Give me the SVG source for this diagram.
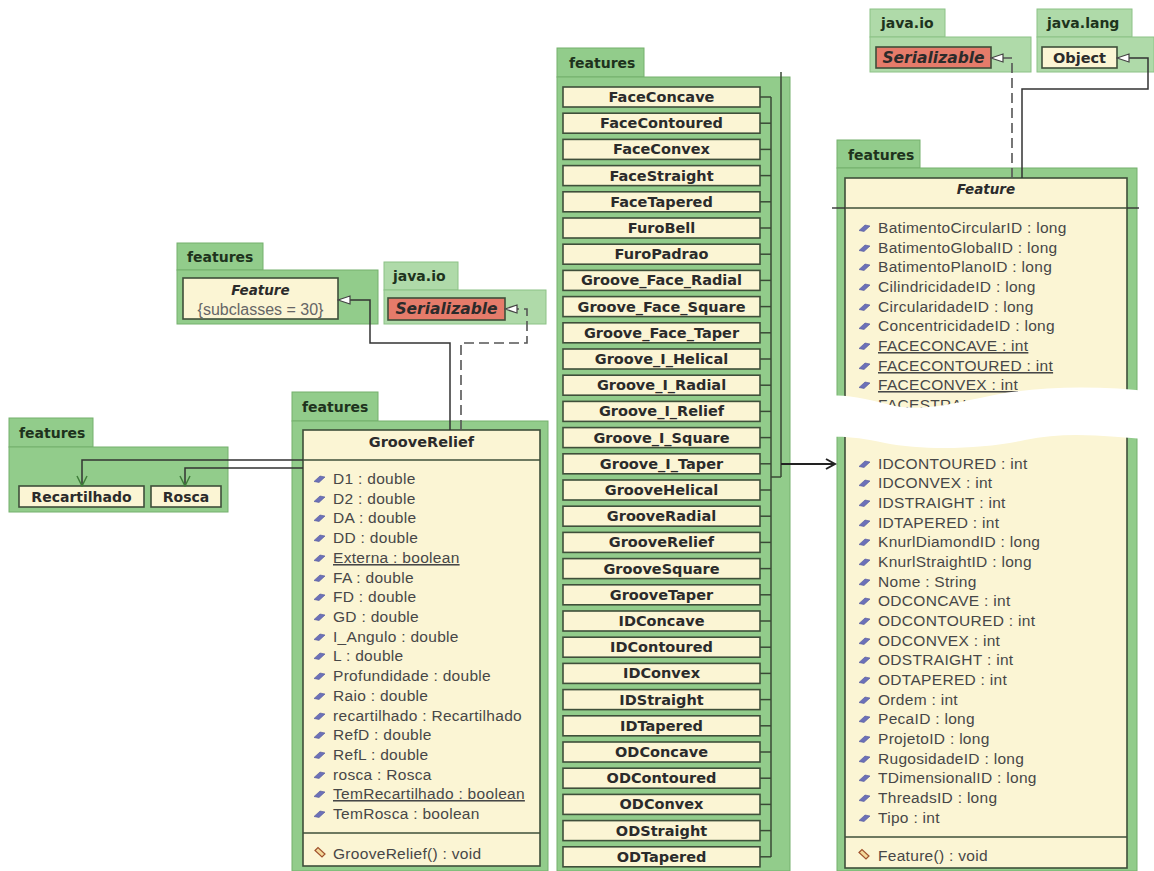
<svg xmlns="http://www.w3.org/2000/svg" width="1154" height="871" viewBox="0 0 1154 871">
<style>
.pkg{fill:#92cc8b;stroke:#74b06d;stroke-width:1}
.pkgj{fill:#afdaa9;stroke:#8cc286;stroke-width:1}
.tab{font-family:"DejaVu Sans",sans-serif;font-weight:bold;font-size:14px;fill:#1e331d}
.cls{fill:#fbf5d4;stroke:#3f4f3a;stroke-width:1.6}
.name{font-family:"DejaVu Sans",sans-serif;font-weight:bold;font-size:14.5px;fill:#2b2b2b;text-anchor:middle}
.iname{font-family:"DejaVu Sans",sans-serif;font-weight:bold;font-style:italic;font-size:13.5px;fill:#2b2b2b;text-anchor:middle}
.attr{font-family:"Liberation Sans",Arial,sans-serif;font-size:15.5px;letter-spacing:0.3px;fill:#474747}
.u{text-decoration:underline}
.sub{font-family:"Liberation Sans",Arial,sans-serif;font-size:16px;fill:#666;text-anchor:middle}
.sep{stroke:#3f4f3a;stroke-width:1.4}
.ln{fill:none;stroke:#333;stroke-width:1.5}
.dash{fill:none;stroke:#555;stroke-width:1.6;stroke-dasharray:10,5}
.bus{fill:none;stroke:#3a4a36;stroke-width:1.5}
</style>
<defs>
<marker id="gen" markerUnits="userSpaceOnUse" markerWidth="14" markerHeight="10" refX="13" refY="5" orient="auto">
<path d="M1,1 L13,5 L1,9 Z" fill="#fff" stroke="#444" stroke-width="1.2"/>
</marker>
<marker id="assoc" markerUnits="userSpaceOnUse" markerWidth="12" markerHeight="12" refX="11" refY="6" orient="auto">
<path d="M1,1 L11,6 L1,11" fill="none" stroke="#3f7d3a" stroke-width="1.5"/>
</marker>
<marker id="dep" markerUnits="userSpaceOnUse" markerWidth="12" markerHeight="12" refX="10" refY="6" orient="auto">
<path d="M1,1 L10,6 L1,11" fill="none" stroke="#222" stroke-width="2"/>
</marker>
<g id="ai"><path d="M-5,2.5 L1,-3 L6,-2 L0,3.5 Z" fill="#6c71b8" stroke="#50559a" stroke-width="0.6"/></g>
<g id="mi"><path d="M-5,-1.5 L-2,-4.5 L5,2 L2,5 Z" fill="#f3d89a" stroke="#a0522d" stroke-width="1.2"/></g>
</defs>

<!-- Feature {subclasses} package -->
<g id="pkg-feature-ref">
<rect class="pkg" x="177" y="243" width="86" height="27"/>
<rect class="pkg" x="177" y="270" width="201" height="54"/>
<text class="tab" x="187" y="262">features</text>
<rect class="cls" x="183" y="278" width="155" height="41"/>
<text class="iname" x="260.5" y="295">Feature</text>
<text class="sub" x="260.5" y="315">{subclasses = 30}</text>
</g>

<!-- java.io left -->
<g id="pkg-javaio-left">
<rect class="pkgj" x="384" y="262" width="74" height="28"/>
<rect class="pkgj" x="384" y="290" width="162" height="34"/>
<text class="tab" x="393" y="281">java.io</text>
<rect x="388" y="298" width="117" height="22" fill="#e57b6a" stroke="#3f4f3a" stroke-width="1.6"/>
<text class="iname" x="446.5" y="314" style="font-size:15.5px">Serializable</text>
</g>

<!-- Recartilhado / Rosca package -->
<g id="pkg-recart">
<rect class="pkg" x="9" y="418" width="84" height="29"/>
<rect class="pkg" x="9" y="447" width="219" height="65"/>
<text class="tab" x="19" y="438">features</text>
<g id="Recartilhado"><rect class="cls" x="19" y="486" width="125" height="21"/><text class="name" x="81.5" y="502" style="font-size:14px">Recartilhado</text></g>
<g id="Rosca"><rect class="cls" x="151" y="486" width="70" height="21"/><text class="name" x="186" y="502" style="font-size:14px">Rosca</text></g>
</g>

<!-- GrooveRelief -->
<g id="GrooveRelief">
<rect class="pkg" x="292" y="392" width="86" height="29"/>
<rect class="pkg" x="292" y="421" width="256" height="450"/>
<text class="tab" x="302" y="412">features</text>
<rect class="cls" x="303" y="430" width="237" height="436"/>
<text class="name" x="421.5" y="447">GrooveRelief</text>
<line class="sep" x1="303" y1="460" x2="540" y2="460"/>
<g class="attr">
<use href="#ai" x="319" y="479"/><text x="333" y="484">D1 : double</text>
<use href="#ai" x="319" y="499"/><text x="333" y="504">D2 : double</text>
<use href="#ai" x="319" y="518"/><text x="333" y="523">DA : double</text>
<use href="#ai" x="319" y="538"/><text x="333" y="543">DD : double</text>
<use href="#ai" x="319" y="558"/><text class="u" x="333" y="563">Externa : boolean</text>
<use href="#ai" x="319" y="578"/><text x="333" y="583">FA : double</text>
<use href="#ai" x="319" y="597"/><text x="333" y="602">FD : double</text>
<use href="#ai" x="319" y="617"/><text x="333" y="622">GD : double</text>
<use href="#ai" x="319" y="637"/><text x="333" y="642">I_Angulo : double</text>
<use href="#ai" x="319" y="656"/><text x="333" y="661">L : double</text>
<use href="#ai" x="319" y="676"/><text x="333" y="681">Profundidade : double</text>
<use href="#ai" x="319" y="696"/><text x="333" y="701">Raio : double</text>
<use href="#ai" x="319" y="716"/><text x="333" y="721">recartilhado : Recartilhado</text>
<use href="#ai" x="319" y="735"/><text x="333" y="740">RefD : double</text>
<use href="#ai" x="319" y="755"/><text x="333" y="760">RefL : double</text>
<use href="#ai" x="319" y="775"/><text x="333" y="780">rosca : Rosca</text>
<use href="#ai" x="319" y="794"/><text class="u" x="333" y="799">TemRecartilhado : boolean</text>
<use href="#ai" x="319" y="814"/><text x="333" y="819">TemRosca : boolean</text>
</g>
<line class="sep" x1="303" y1="833" x2="540" y2="833"/>
<use href="#mi" x="320" y="852"/><text class="attr" x="333" y="859">GrooveRelief() : void</text>
</g>

<!-- Middle package with 30 subclasses -->
<g id="pkg-subclasses">
<rect class="pkg" x="557" y="48" width="87" height="29"/>
<rect class="pkg" x="557" y="77" width="233" height="794"/>
<text class="tab" x="569" y="68">features</text>
<g id="FaceConcave"><rect class="cls" x="563" y="87" width="197" height="20"/><text class="name" x="661.5" y="102">FaceConcave</text></g>
<g id="FaceContoured"><rect class="cls" x="563" y="113.2" width="197" height="20"/><text class="name" x="661.5" y="128.2">FaceContoured</text></g>
<g id="FaceConvex"><rect class="cls" x="563" y="139.4" width="197" height="20"/><text class="name" x="661.5" y="154.4">FaceConvex</text></g>
<g id="FaceStraight"><rect class="cls" x="563" y="165.6" width="197" height="20"/><text class="name" x="661.5" y="180.6">FaceStraight</text></g>
<g id="FaceTapered"><rect class="cls" x="563" y="191.8" width="197" height="20"/><text class="name" x="661.5" y="206.8">FaceTapered</text></g>
<g id="FuroBell"><rect class="cls" x="563" y="218" width="197" height="20"/><text class="name" x="661.5" y="233">FuroBell</text></g>
<g id="FuroPadrao"><rect class="cls" x="563" y="244.2" width="197" height="20"/><text class="name" x="661.5" y="259.2">FuroPadrao</text></g>
<g id="Groove_Face_Radial"><rect class="cls" x="563" y="270.4" width="197" height="20"/><text class="name" x="661.5" y="285.4">Groove_Face_Radial</text></g>
<g id="Groove_Face_Square"><rect class="cls" x="563" y="296.6" width="197" height="20"/><text class="name" x="661.5" y="311.6">Groove_Face_Square</text></g>
<g id="Groove_Face_Taper"><rect class="cls" x="563" y="322.8" width="197" height="20"/><text class="name" x="661.5" y="337.8">Groove_Face_Taper</text></g>
<g id="Groove_I_Helical"><rect class="cls" x="563" y="349" width="197" height="20"/><text class="name" x="661.5" y="364">Groove_I_Helical</text></g>
<g id="Groove_I_Radial"><rect class="cls" x="563" y="375.2" width="197" height="20"/><text class="name" x="661.5" y="390.2">Groove_I_Radial</text></g>
<g id="Groove_I_Relief"><rect class="cls" x="563" y="401.4" width="197" height="20"/><text class="name" x="661.5" y="416.4">Groove_I_Relief</text></g>
<g id="Groove_I_Square"><rect class="cls" x="563" y="427.6" width="197" height="20"/><text class="name" x="661.5" y="442.6">Groove_I_Square</text></g>
<g id="Groove_I_Taper"><rect class="cls" x="563" y="453.8" width="197" height="20"/><text class="name" x="661.5" y="468.8">Groove_I_Taper</text></g>
<g id="GrooveHelical"><rect class="cls" x="563" y="480" width="197" height="20"/><text class="name" x="661.5" y="495">GrooveHelical</text></g>
<g id="GrooveRadial"><rect class="cls" x="563" y="506.2" width="197" height="20"/><text class="name" x="661.5" y="521.2">GrooveRadial</text></g>
<g id="GrooveRelief-sub"><rect class="cls" x="563" y="532.4" width="197" height="20"/><text class="name" x="661.5" y="547.4">GrooveRelief</text></g>
<g id="GrooveSquare"><rect class="cls" x="563" y="558.6" width="197" height="20"/><text class="name" x="661.5" y="573.6">GrooveSquare</text></g>
<g id="GrooveTaper"><rect class="cls" x="563" y="584.8" width="197" height="20"/><text class="name" x="661.5" y="599.8">GrooveTaper</text></g>
<g id="IDConcave"><rect class="cls" x="563" y="611" width="197" height="20"/><text class="name" x="661.5" y="626">IDConcave</text></g>
<g id="IDContoured"><rect class="cls" x="563" y="637.2" width="197" height="20"/><text class="name" x="661.5" y="652.2">IDContoured</text></g>
<g id="IDConvex"><rect class="cls" x="563" y="663.4" width="197" height="20"/><text class="name" x="661.5" y="678.4">IDConvex</text></g>
<g id="IDStraight"><rect class="cls" x="563" y="689.6" width="197" height="20"/><text class="name" x="661.5" y="704.6">IDStraight</text></g>
<g id="IDTapered"><rect class="cls" x="563" y="715.8" width="197" height="20"/><text class="name" x="661.5" y="730.8">IDTapered</text></g>
<g id="ODConcave"><rect class="cls" x="563" y="742" width="197" height="20"/><text class="name" x="661.5" y="757">ODConcave</text></g>
<g id="ODContoured"><rect class="cls" x="563" y="768.2" width="197" height="20"/><text class="name" x="661.5" y="783.2">ODContoured</text></g>
<g id="ODConvex"><rect class="cls" x="563" y="794.4" width="197" height="20"/><text class="name" x="661.5" y="809.4">ODConvex</text></g>
<g id="ODStraight"><rect class="cls" x="563" y="820.6" width="197" height="20"/><text class="name" x="661.5" y="835.6">ODStraight</text></g>
<g id="ODTapered"><rect class="cls" x="563" y="846.8" width="197" height="20"/><text class="name" x="661.5" y="861.8">ODTapered</text></g>
</g>

<!-- top right java packages -->
<g id="pkg-javaio-right">
<rect class="pkgj" x="870" y="9" width="75" height="28"/>
<rect class="pkgj" x="870" y="37" width="161" height="35"/>
<text class="tab" x="881" y="28">java.io</text>
<rect x="876" y="47" width="115" height="21" fill="#e57b6a" stroke="#3f4f3a" stroke-width="1.6"/>
<text class="iname" x="933.5" y="63" style="font-size:15.5px">Serializable</text>
</g>
<g id="pkg-javalang">
<rect class="pkgj" x="1037" y="9" width="95" height="28"/>
<rect class="pkgj" x="1037" y="37" width="117" height="35"/>
<text class="tab" x="1047" y="28">java.lang</text>
<rect class="cls" x="1042" y="47" width="75" height="21"/>
<text class="name" x="1079.5" y="63">Object</text>
</g>

<!-- Feature class -->
<g id="Feature">
<rect class="pkg" x="837" y="140" width="83" height="28"/>
<rect class="pkg" x="837" y="168" width="300" height="703"/>
<text class="tab" x="848" y="160">features</text>
<rect class="cls" x="845" y="178" width="282" height="690"/>
<text class="iname" x="986" y="194">Feature</text>
<line class="sep" x1="845" y1="208" x2="1127" y2="208"/>
<g class="attr">
<use href="#ai" x="864" y="228"/><text x="878" y="233">BatimentoCircularID : long</text>
<use href="#ai" x="864" y="248"/><text x="878" y="253">BatimentoGlobalID : long</text>
<use href="#ai" x="864" y="267"/><text x="878" y="272">BatimentoPlanoID : long</text>
<use href="#ai" x="864" y="287"/><text x="878" y="292">CilindricidadeID : long</text>
<use href="#ai" x="864" y="307"/><text x="878" y="312">CircularidadeID : long</text>
<use href="#ai" x="864" y="326"/><text x="878" y="331">ConcentricidadeID : long</text>
<use href="#ai" x="864" y="346"/><text class="u" x="878" y="351">FACECONCAVE : int</text>
<use href="#ai" x="864" y="366"/><text class="u" x="878" y="371">FACECONTOURED : int</text>
<use href="#ai" x="864" y="385"/><text class="u" x="878" y="390">FACECONVEX : int</text>
<use href="#ai" x="864" y="405"/><text class="u" x="878" y="410">FACESTRAIGHT : int</text>
<use href="#ai" x="864" y="464"/><text x="878" y="469">IDCONTOURED : int</text>
<use href="#ai" x="864" y="483"/><text x="878" y="488">IDCONVEX : int</text>
<use href="#ai" x="864" y="503"/><text x="878" y="508">IDSTRAIGHT : int</text>
<use href="#ai" x="864" y="523"/><text x="878" y="528">IDTAPERED : int</text>
<use href="#ai" x="864" y="542"/><text x="878" y="547">KnurlDiamondID : long</text>
<use href="#ai" x="864" y="562"/><text x="878" y="567">KnurlStraightID : long</text>
<use href="#ai" x="864" y="582"/><text x="878" y="587">Nome : String</text>
<use href="#ai" x="864" y="601"/><text x="878" y="606">ODCONCAVE : int</text>
<use href="#ai" x="864" y="621"/><text x="878" y="626">ODCONTOURED : int</text>
<use href="#ai" x="864" y="641"/><text x="878" y="646">ODCONVEX : int</text>
<use href="#ai" x="864" y="660"/><text x="878" y="665">ODSTRAIGHT : int</text>
<use href="#ai" x="864" y="680"/><text x="878" y="685">ODTAPERED : int</text>
<use href="#ai" x="864" y="700"/><text x="878" y="705">Ordem : int</text>
<use href="#ai" x="864" y="719"/><text x="878" y="724">PecaID : long</text>
<use href="#ai" x="864" y="739"/><text x="878" y="744">ProjetoID : long</text>
<use href="#ai" x="864" y="759"/><text x="878" y="764">RugosidadeID : long</text>
<use href="#ai" x="864" y="778"/><text x="878" y="783">TDimensionalID : long</text>
<use href="#ai" x="864" y="798"/><text x="878" y="803">ThreadsID : long</text>
<use href="#ai" x="864" y="818"/><text x="878" y="823">Tipo : int</text>
</g>
<line class="sep" x1="845" y1="837" x2="1127" y2="837"/>
<use href="#mi" x="864" y="854"/><text class="attr" x="878" y="861">Feature() : void</text>
<!-- torn-paper cut -->
<path d="M828,396 C850,394 868,400 895,406 C930,412 965,400 1005,393 C1050,386 1105,386 1154,392 L1154,440 C1110,436 1065,431 1025,440 C985,449 925,451 885,443 C862,438 846,436 828,437 Z" fill="#fff"/>
</g>

<!-- connectors -->
<g id="connectors">
<polyline class="ln" points="303,460 82,460 82,486" marker-end="url(#assoc)"/>
<polyline class="ln" points="303,468 185,468 185,486" marker-end="url(#assoc)"/>
<polyline class="ln" points="450,430 450,343 370,343 370,300 338,300" marker-end="url(#gen)"/>
<polyline class="dash" points="461,430 461,343 527,343 527,309 505,309" marker-end="url(#gen)"/>
<g class="bus">
<line x1="771" y1="97" x2="771" y2="857"/>
<line x1="781" y1="72" x2="781" y2="477"/>
<line x1="771" y1="477" x2="781" y2="477"/>
<line x1="760" y1="97" x2="771" y2="97"/>
<line x1="760" y1="123.2" x2="771" y2="123.2"/>
<line x1="760" y1="149.4" x2="771" y2="149.4"/>
<line x1="760" y1="175.6" x2="771" y2="175.6"/>
<line x1="760" y1="201.8" x2="771" y2="201.8"/>
<line x1="760" y1="228" x2="771" y2="228"/>
<line x1="760" y1="254.2" x2="771" y2="254.2"/>
<line x1="760" y1="280.4" x2="771" y2="280.4"/>
<line x1="760" y1="306.6" x2="771" y2="306.6"/>
<line x1="760" y1="332.8" x2="771" y2="332.8"/>
<line x1="760" y1="359" x2="771" y2="359"/>
<line x1="760" y1="385.2" x2="771" y2="385.2"/>
<line x1="760" y1="411.4" x2="771" y2="411.4"/>
<line x1="760" y1="437.6" x2="771" y2="437.6"/>
<line x1="760" y1="463.8" x2="771" y2="463.8"/>
<line x1="760" y1="490" x2="771" y2="490"/>
<line x1="760" y1="516.2" x2="771" y2="516.2"/>
<line x1="760" y1="542.4" x2="771" y2="542.4"/>
<line x1="760" y1="568.6" x2="771" y2="568.6"/>
<line x1="760" y1="594.8" x2="771" y2="594.8"/>
<line x1="760" y1="621" x2="771" y2="621"/>
<line x1="760" y1="647.2" x2="771" y2="647.2"/>
<line x1="760" y1="673.4" x2="771" y2="673.4"/>
<line x1="760" y1="699.6" x2="771" y2="699.6"/>
<line x1="760" y1="725.8" x2="771" y2="725.8"/>
<line x1="760" y1="752" x2="771" y2="752"/>
<line x1="760" y1="778.2" x2="771" y2="778.2"/>
<line x1="760" y1="804.4" x2="771" y2="804.4"/>
<line x1="760" y1="830.6" x2="771" y2="830.6"/>
<line x1="760" y1="856.8" x2="771" y2="856.8"/>
</g>
<line x1="781" y1="464" x2="835" y2="464" stroke="#222" stroke-width="1.8" marker-end="url(#dep)"/>
<polyline class="dash" points="1012,178 1012,58 991,58" marker-end="url(#gen)"/>
<polyline class="ln" points="1022,178 1022,89 1148,89 1148,58 1117,58" marker-end="url(#gen)"/>
<line x1="832" y1="208" x2="845" y2="208" stroke="#333" stroke-width="1.4"/>
<line x1="1127" y1="208" x2="1139" y2="208" stroke="#333" stroke-width="1.4"/>
</g>
</svg>
